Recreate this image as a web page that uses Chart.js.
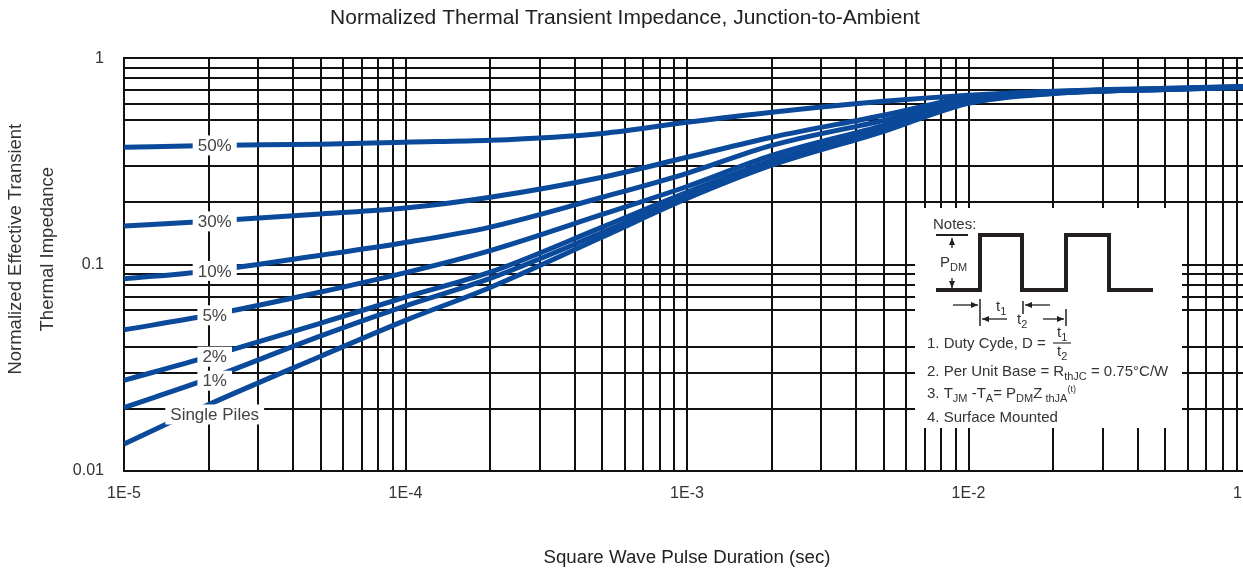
<!DOCTYPE html>
<html>
<head>
<meta charset="utf-8">
<script src="https://cdn.jsdelivr.net/npm/chart.js@4.4.0/dist/chart.umd.min.js"></script>
<style>
html, body { margin: 0; padding: 0; background: #fff; overflow: hidden; }
#wrap { width: 1344px; height: 569px; }
</style>
</head>
<body>
<div id="wrap"><canvas id="myChart" width="1344" height="569"></canvas></div>
<script>
// pulse durations (sec) and normalized impedance
var pulseDuration = [1e-5, 2e-5, 5e-5, 1e-4, 2e-4, 5e-4, 1e-3, 2e-3, 5e-3, 1e-2, 2e-2, 5e-2, 1e-1];
var duty50 = [0.370, 0.378, 0.383, 0.392, 0.400, 0.432, 0.489, 0.547, 0.618, 0.661, 0.692, 0.715, 0.731];
var duty30 = [0.154, 0.162, 0.176, 0.188, 0.212, 0.265, 0.331, 0.414, 0.529, 0.647, 0.688, 0.712, 0.728];
var duty10 = [0.0853, 0.0932, 0.111, 0.128, 0.152, 0.212, 0.277, 0.378, 0.500, 0.632, 0.684, 0.710, 0.727];
var duty5 = [0.0483, 0.0568, 0.0737, 0.0915, 0.117, 0.175, 0.239, 0.338, 0.473, 0.625, 0.680, 0.708, 0.726];
var duty2 = [0.0275, 0.0358, 0.0520, 0.0696, 0.0919, 0.152, 0.224, 0.320, 0.457, 0.618, 0.678, 0.707, 0.725];
var duty1 = [0.0203, 0.0280, 0.0452, 0.0631, 0.0857, 0.143, 0.216, 0.309, 0.447, 0.612, 0.676, 0.706, 0.724];
var singlePulse = [0.0135, 0.0210, 0.0360, 0.0537, 0.0775, 0.136, 0.209, 0.303, 0.442, 0.605, 0.674, 0.705, 0.723];
var curveLabels = ['50%', '30%', '10%', '5%', '2%', '1%', 'Single Piles'];

// grid / tick values
var xDecades = [1e-5, 1e-4, 1e-3, 1e-2];
var xMantissas = [1, 2, 3, 4, 5, 6, 7, 8, 9];
var yGridValues = [1, 0.9, 0.8, 0.7, 0.6, 0.5, 0.3, 0.2, 0.1, 0.09, 0.08, 0.07, 0.06, 0.04, 0.03, 0.02, 0.01];
var yLabelValues = [1, 0.1, 0.01];

var FONT = "'Liberation Sans', Arial, sans-serif";
var BLUE = '#0b4a9b';

var xGridValues = [];
xDecades.forEach(function (d) {
    xMantissas.forEach(function (m) { xGridValues.push(m * d); });
});
xGridValues.push(0.1);

function toPoints(arr) {
    return arr.map(function (v, i) { return { x: pulseDuration[i], y: v }; });
}

var seriesList = [duty50, duty30, duty10, duty5, duty2, duty1, singlePulse];
var labelDy = [0, 0, 0, 0, 0, 2, 10];

var datasets = seriesList.map(function (s, i) {
    return {
        label: curveLabels[i],
        data: toPoints(s),
        borderColor: BLUE,
        borderWidth: 5,
        pointRadius: 0,
        fill: false,
        cubicInterpolationMode: 'monotone'
    };
});

// little text helper for sub/superscripts
function drawRuns(ctx, x, y, runs) {
    runs.forEach(function (r) {
        var size = 15, dy = 0;
        if (r[1] === 'sub') { size = 11; dy = 4; }
        if (r[1] === 'sup') { size = 9; dy = -6; }
        ctx.font = size + 'px ' + FONT;
        ctx.fillText(r[0], x, y + dy);
        x += ctx.measureText(r[0]).width;
    });
    return x;
}

function arrow(ctx, x1, y1, x2, y2) {
    ctx.lineWidth = 1.3;
    ctx.beginPath(); ctx.moveTo(x1, y1); ctx.lineTo(x2, y2); ctx.stroke();
    var a = Math.atan2(y2 - y1, x2 - x1);
    ctx.beginPath();
    ctx.moveTo(x2, y2);
    ctx.lineTo(x2 - 7 * Math.cos(a) + 3 * Math.sin(a), y2 - 7 * Math.sin(a) - 3 * Math.cos(a));
    ctx.lineTo(x2 - 7 * Math.cos(a) - 3 * Math.sin(a), y2 - 7 * Math.sin(a) + 3 * Math.cos(a));
    ctx.closePath(); ctx.fill();
}

function tick(ctx, x, y1, y2) {
    ctx.lineWidth = 1.5;
    ctx.beginPath(); ctx.moveTo(x, y1); ctx.lineTo(x, y2); ctx.stroke();
}

var notesBox = {
    id: 'notesBox',
    beforeDatasetsDraw: function (chart) {
        var ctx = chart.ctx, xs = chart.scales.x, ys = chart.scales.y;
        var L = Math.round(xs.getPixelForValue(6.45e-3));
        var R = Math.round(xs.getPixelForValue(0.0573));
        var T = Math.round(ys.getPixelForValue(0.189));
        var B = Math.round(ys.getPixelForValue(0.0162));
        ctx.save();
        ctx.fillStyle = '#fff';
        ctx.fillRect(L, T, R - L, B - T);

        ctx.fillStyle = '#333';
        ctx.strokeStyle = '#231f20';
        ctx.textAlign = 'left';
        ctx.textBaseline = 'alphabetic';
        ctx.font = '15px ' + FONT;
        ctx.fillText('Notes:', L + 18, T + 21);

        // pulse train
        var base = T + 82, top = T + 27;
        ctx.lineWidth = 4;
        ctx.beginPath();
        ctx.moveTo(L + 21, base); ctx.lineTo(L + 65, base); ctx.lineTo(L + 65, top);
        ctx.lineTo(L + 107, top); ctx.lineTo(L + 107, base); ctx.lineTo(L + 151, base);
        ctx.lineTo(L + 151, top); ctx.lineTo(L + 194, top); ctx.lineTo(L + 194, base);
        ctx.lineTo(L + 238, base);
        ctx.stroke();

        // PDM marker
        ctx.lineWidth = 2;
        ctx.beginPath(); ctx.moveTo(L + 21, top); ctx.lineTo(L + 53, top); ctx.stroke();
        ctx.fillStyle = '#231f20';
        arrow(ctx, L + 37, T + 40, L + 37, T + 30);
        arrow(ctx, L + 37, T + 70, L + 37, T + 80);
        ctx.fillStyle = '#333';
        drawRuns(ctx, L + 25, T + 59, [['P', 'n'], ['DM', 'sub']]);

        // t1 / t2 dimension marks
        ctx.fillStyle = '#231f20';
        arrow(ctx, L + 38, T + 97, L + 63, T + 97);
        tick(ctx, L + 65, T + 91, T + 118);
        tick(ctx, L + 108, T + 93, T + 106);
        arrow(ctx, L + 135, T + 97, L + 110, T + 97);
        arrow(ctx, L + 92, T + 111, L + 67, T + 111);
        arrow(ctx, L + 128, T + 111, L + 149, T + 111);
        tick(ctx, L + 151, T + 101, T + 118);
        ctx.fillStyle = '#333';
        drawRuns(ctx, L + 81, T + 103, [['t', 'n'], ['1', 'sub']]);
        drawRuns(ctx, L + 102, T + 116, [['t', 'n'], ['2', 'sub']]);

        // notes text
        drawRuns(ctx, L + 12, T + 140, [['1. Duty Cyde, D =', 'n']]);
        drawRuns(ctx, L + 142, T + 129, [['t', 'n'], ['1', 'sub']]);
        ctx.lineWidth = 1.2; ctx.strokeStyle = '#333';
        ctx.beginPath(); ctx.moveTo(L + 138, T + 135); ctx.lineTo(L + 156, T + 135); ctx.stroke();
        drawRuns(ctx, L + 142, T + 148, [['t', 'n'], ['2', 'sub']]);
        drawRuns(ctx, L + 12, T + 168, [['2. Per Unit Base = R', 'n'], ['thJC', 'sub'], [' = 0.75\u00B0C/W', 'n']]);
        drawRuns(ctx, L + 12, T + 190, [['3. T', 'n'], ['JM', 'sub'], [' -T', 'n'], ['A', 'sub'], ['= P', 'n'],
            ['DM', 'sub'], ['Z', 'n'], [' thJA', 'sub'], ['(t)', 'sup']]);
        drawRuns(ctx, L + 12, T + 214, [['4. Surface Mounted', 'n']]);
        ctx.restore();
    }
};

var curveTags = {
    id: 'curveTags',
    afterDatasetsDraw: function (chart) {
        var ctx = chart.ctx, xs = chart.scales.x, ys = chart.scales.y;
        ctx.save();
        ctx.font = '17px ' + FONT;
        ctx.textAlign = 'center';
        ctx.textBaseline = 'middle';
        var cx = xs.getPixelForValue(2.1e-5);
        seriesList.forEach(function (s, i) {
            var cy = ys.getPixelForValue(s[1]) + labelDy[i];
            var w = ctx.measureText(curveLabels[i]).width;
            ctx.fillStyle = '#fff';
            ctx.fillRect(cx - w / 2 - 5, cy - 10, w + 10, 20);
            ctx.fillStyle = '#444';
            ctx.fillText(curveLabels[i], cx, cy + 1);
        });
        ctx.restore();
    }
};

var ctx = document.getElementById('myChart').getContext('2d');
var chart = new Chart(ctx, {
    type: 'line',
    data: { datasets: datasets },
    options: {
        responsive: false,
        animation: false,
        layout: { padding: { left: 0, right: 94, top: 0, bottom: 0 } },
        plugins: {
            legend: { display: false },
            tooltip: { enabled: false },
            title: {
                display: true,
                text: 'Normalized Thermal Transient Impedance, Junction-to-Ambient',
                color: '#222',
                font: { family: FONT, size: 21, weight: 'normal' },
                padding: { top: 6, bottom: 27 }
            }
        },
        scales: {
            x: {
                type: 'logarithmic',
                min: 1e-5,
                max: 0.1,
                afterBuildTicks: function (scale) {
                    scale.ticks = xGridValues.map(function (v) { return { value: v }; });
                },
                afterFit: function (scale) { scale.height = 98; },
                grid: { color: '#111', lineWidth: 2, drawTicks: false },
                border: { color: '#111', width: 2 },
                ticks: {
                    autoSkip: false,
                    maxRotation: 0,
                    padding: 13,
                    color: '#333',
                    font: { family: FONT, size: 16 },
                    callback: function (v) {
                        var e = Math.log10(v);
                        if (Math.abs(e - Math.round(e)) < 1e-6) return '1E' + Math.round(e);
                        return '';
                    }
                },
                title: {
                    display: true,
                    text: 'Square Wave Pulse Duration (sec)',
                    color: '#222',
                    font: { family: FONT, size: 18.7 },
                    padding: { top: 0, bottom: 0 }
                }
            },
            y: {
                type: 'logarithmic',
                min: 0.01,
                max: 1,
                afterBuildTicks: function (scale) {
                    scale.ticks = yGridValues.map(function (v) { return { value: v }; });
                },
                afterFit: function (scale) { scale.width = 124; },
                grid: { color: '#111', lineWidth: 2, drawTicks: false },
                border: { color: '#111', width: 2 },
                ticks: {
                    autoSkip: false,
                    padding: 20,
                    color: '#333',
                    font: { family: FONT, size: 16 },
                    callback: function (v) {
                        for (var i = 0; i < yLabelValues.length; i++) {
                            if (Math.abs(v - yLabelValues[i]) < 1e-9) return String(yLabelValues[i]);
                        }
                        return '';
                    }
                },
                title: {
                    display: true,
                    text: ['      Normalized Effective Transient', '      Thermal Impedance'],
                    color: '#333',
                    font: { family: FONT, size: 18.5, lineHeight: 1.73 },
                    padding: { top: 0, bottom: 0 }
                }
            }
        }
    },
    plugins: [notesBox, curveTags]
});
</script>
</body>
</html>
